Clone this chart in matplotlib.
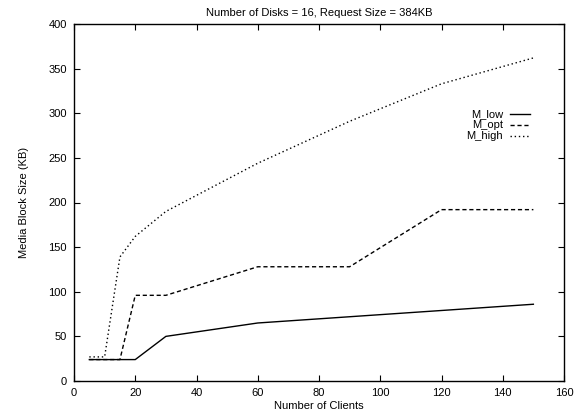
import matplotlib
matplotlib.use("Agg")
from matplotlib import pyplot as plt

plt.rcParams["font.family"] = ["Liberation Sans", "DejaVu Sans"]
plt.rcParams["font.size"] = 8

clients = [5, 10, 15, 20, 30, 60, 90, 120, 150]
m_low = [24, 24, 24, 24, 50, 65, 72, 79, 86]
m_opt = [24, 24, 24, 96, 96, 128, 128, 192, 192]
m_high = [27, 27, 139, 162, 190, 244, 291, 333, 362]

series = [("M_low", m_low, None),
          ("M_opt", m_opt, (3, 2)),
          ("M_high", m_high, (1, 2))]

fig = plt.figure(figsize=(5.81, 4.17), dpi=100)
ax = fig.add_axes([74 / 581, 1 - 381 / 417, 490 / 581, 357 / 417])

for i, (name, ys, dash) in enumerate(series):
  line, = ax.plot(clients, ys, color="black", lw=1.0)
  if dash:
    line.set_dashes(dash)
  # gnuplot style key: label right-aligned, sample to the right
  ky = 0.748 - i * 0.031
  key, = ax.plot([0.890, 0.931], [ky, ky], color="black", lw=1.0,
                 transform=ax.transAxes)
  if dash:
    key.set_dashes(dash)
  ax.text(0.876, ky, name, transform=ax.transAxes, ha="right", va="center",
          fontsize=8)

ax.set_xlim(0, 160)
ax.set_ylim(0, 400)
ax.set_xticks(range(0, 161, 20))
ax.set_yticks(range(0, 401, 50))
ax.tick_params(direction="in", top=True, right=True, length=4, width=0.8,
               pad=5, labelsize=8)
for s in ax.spines.values():
  s.set_linewidth(1.0)

ax.set_title("Number of Disks = 16, Request Size = 384KB", fontsize=8, pad=6)
ax.set_xlabel("Number of Clients", fontsize=8, labelpad=2)
ax.set_ylabel("Media Block Size (KB)", fontsize=8, labelpad=14)

fig.savefig("out.png", dpi=100)
